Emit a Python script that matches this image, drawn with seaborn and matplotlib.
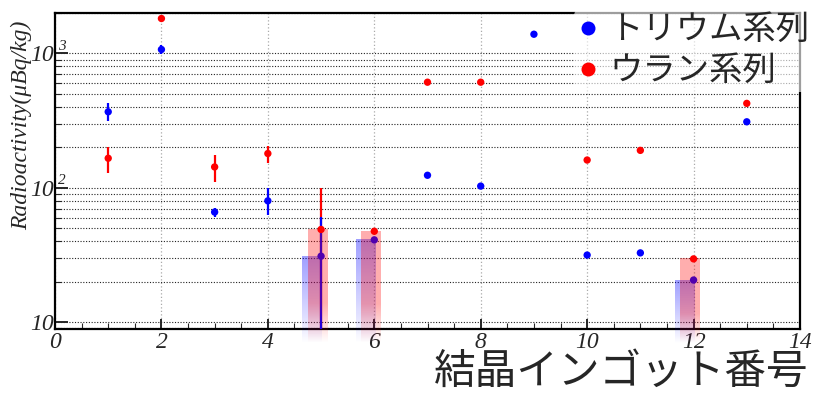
import numpy as np
import pandas as pd
import matplotlib
matplotlib.use("Agg")
import matplotlib.pyplot as plt
from matplotlib.ticker import FixedLocator, MultipleLocator, NullFormatter, FixedFormatter
import seaborn as sns

# Measured activity per crystal ingot (µBq/kg)
ingots = [1, 2, 3, 4, 5, 6, 7, 8, 9, 10, 11, 12, 13]
thorium = [368, 1070, 66, 80, 31, 41, 124, 103, 1390, 31.6, 32.8, 20.6, 310]
thorium_err_lo = [53, 80, 5, 17, 26, 0, 0, 0, 0, 0, 0, 0, 0]
thorium_err_hi = [57, 80, 5, 19, 30, 0, 0, 0, 0, 0, 0, 0, 0]
uranium = [166, 1820, 143, 180, 49, 47.5, 611, 611, np.nan, 161, 190, 29.6, 425]
uranium_err_lo = [36, 0, 32, 27, 44, 0, 0, 0, 0, 0, 0, 0, 0]
uranium_err_hi = [36, 0, 32, 24, 50, 0, 0, 0, 0, 0, 0, 0, 0]

# Ingots whose values are upper limits (shaded bands)
limit_ingots = [5, 6, 12]

series_names = ["トリウム系列", "ウラン系列"]
series_colors = {"トリウム系列": "#0000ff", "ウラン系列": "#ff0000"}

y_ticks = [10, 100, 1000]
y_tick_labels = ["10", "10", "10"]
y_exponents = ["", "2", "3"]
x_ticks = [0, 2, 4, 6, 8, 10, 12, 14]

df = pd.DataFrame({
    "ingot": ingots * 2,
    "activity": thorium + uranium,
    "series": [series_names[0]] * len(ingots) + [series_names[1]] * len(ingots),
})

sns.set_theme(style="ticks")
plt.rcParams["font.family"] = ["Liberation Serif", "DejaVu Serif"]

W, H = 813, 394
fig = plt.figure(figsize=(W / 100, H / 100), dpi=100)
ax = fig.add_axes([55 / W, 1 - 329 / H, (800 - 55) / W, (329 - 13) / H])
ax.set_yscale("log")
ax.set_xlim(0, 14)
ax.set_ylim(8.9, 2000)
ax.set_autoscale_on(False)

# grid
ax.set_axisbelow(True)
ax.grid(which="both", axis="y", color="#222222", linestyle=(0, (1, 1.5)), linewidth=0.8)
ax.grid(which="major", axis="x", color="#aaaaaa", linestyle=(0, (1, 1.8)), linewidth=0.9)

# error bars (uranium first so thorium segments stay visible where they overlap)
ax.errorbar(ingots, uranium, yerr=[uranium_err_lo, uranium_err_hi], fmt="none",
            ecolor=series_colors[series_names[1]], elinewidth=1.6, capsize=0, zorder=3)
ax.errorbar(ingots, thorium, yerr=[thorium_err_lo, thorium_err_hi], fmt="none",
            ecolor=series_colors[series_names[0]], elinewidth=1.6, capsize=0, zorder=3)

# points
sns.scatterplot(data=df, x="ingot", y="activity", hue="series", palette=series_colors,
                hue_order=series_names, s=28, linewidth=0, ax=ax, zorder=4)

# upper-limit bands with vertical fade
th_map = dict(zip(ingots, thorium))
u_map = dict(zip(ingots, uranium))
band_bottom = 7.0
th_bars = ax.bar([i - 0.17 for i in limit_ingots],
                 [th_map[i] - band_bottom for i in limit_ingots],
                 bottom=band_bottom, width=0.36, color="none", linewidth=0, clip_on=False)
u_bars = ax.bar([i - 0.07 for i in limit_ingots],
                [u_map[i] - band_bottom for i in limit_ingots],
                bottom=band_bottom, width=0.36, color="none", linewidth=0, clip_on=False)


def fade_fill(patch, rgb, alpha_fn, z):
    bb = patch.get_window_extent()
    (x0, y0), (x1, y1) = ax.transAxes.inverted().transform(bb.get_points())
    t = np.linspace(0, 1, 256)[:, None]
    img = np.zeros((256, 1, 4))
    img[..., :3] = rgb
    img[..., 3] = alpha_fn(t)
    ax.imshow(img, extent=(x0, x1, y0, y1), origin="lower", transform=ax.transAxes,
              aspect="auto", interpolation="bilinear", clip_on=False, zorder=z)


for p in th_bars.patches:
    fade_fill(p, (0, 0, 1), lambda t: 0.38 * t ** 0.9, 5)
for p in u_bars.patches:
    fade_fill(p, (1, 0, 0), lambda t: 0.32 * np.clip(t / 0.35, 0, 1), 5)

ax.set_xlim(0, 14)
ax.set_ylim(8.9, 2000)

# axes and ticks
for s in ax.spines.values():
    s.set_linewidth(1.6)
    s.set_color("black")
ax.xaxis.set_major_locator(FixedLocator(x_ticks))
ax.xaxis.set_minor_locator(MultipleLocator(0.5))
ax.yaxis.set_major_locator(FixedLocator(y_ticks))
ax.yaxis.set_major_formatter(FixedFormatter(y_tick_labels))
ax.yaxis.set_minor_formatter(NullFormatter())
ax.tick_params(axis="both", which="major", direction="in", width=1.4, labelsize=17,
               top=False, right=False)
ax.tick_params(axis="x", which="major", length=7, pad=2)
ax.tick_params(axis="y", which="major", length=9, pad=1)
ax.tick_params(axis="both", which="minor", direction="in", width=0.8, length=4,
               top=False, right=False)
for lab in ax.get_xticklabels() + ax.get_yticklabels():
    lab.set_fontstyle("italic")
for val, ex in zip(y_ticks, y_exponents):
    if ex:
        ax.annotate(ex, xy=(0, val), xycoords=("axes fraction", "data"),
                    xytext=(2, 0.5), textcoords="offset points", fontsize=11,
                    fontstyle="italic", ha="left", va="bottom")

ax.set_xlabel("")
ax.set_ylabel("Radioactivity(μBq/kg)", fontsize=17, fontstyle="italic")
ax.yaxis.label.set_horizontalalignment("right")
ax.yaxis.set_label_coords(-0.031, 0.975)

# legend
handles, labels = ax.get_legend_handles_labels()
leg = ax.legend(handles, labels, loc="upper right", bbox_to_anchor=(1.0, 1.0 - 9 / H),
                bbox_transform=fig.transFigure, markerscale=1.9, frameon=True,
                framealpha=0.62, edgecolor="none", facecolor="white",
                prop={"family": ["Noto Sans CJK JP", "DejaVu Sans"], "size": 24},
                handlelength=0.6, handletextpad=0.35, labelspacing=0.18,
                borderpad=0.1, borderaxespad=0.0)
leg.set_zorder(10)

fig.text(1 - 4 / W, 1 - 372 / H, "結晶インゴット番号", ha="right", va="center",
         fontsize=30, family=["Noto Sans CJK JP", "DejaVu Sans"])

fig.savefig("out.png", dpi=100)
